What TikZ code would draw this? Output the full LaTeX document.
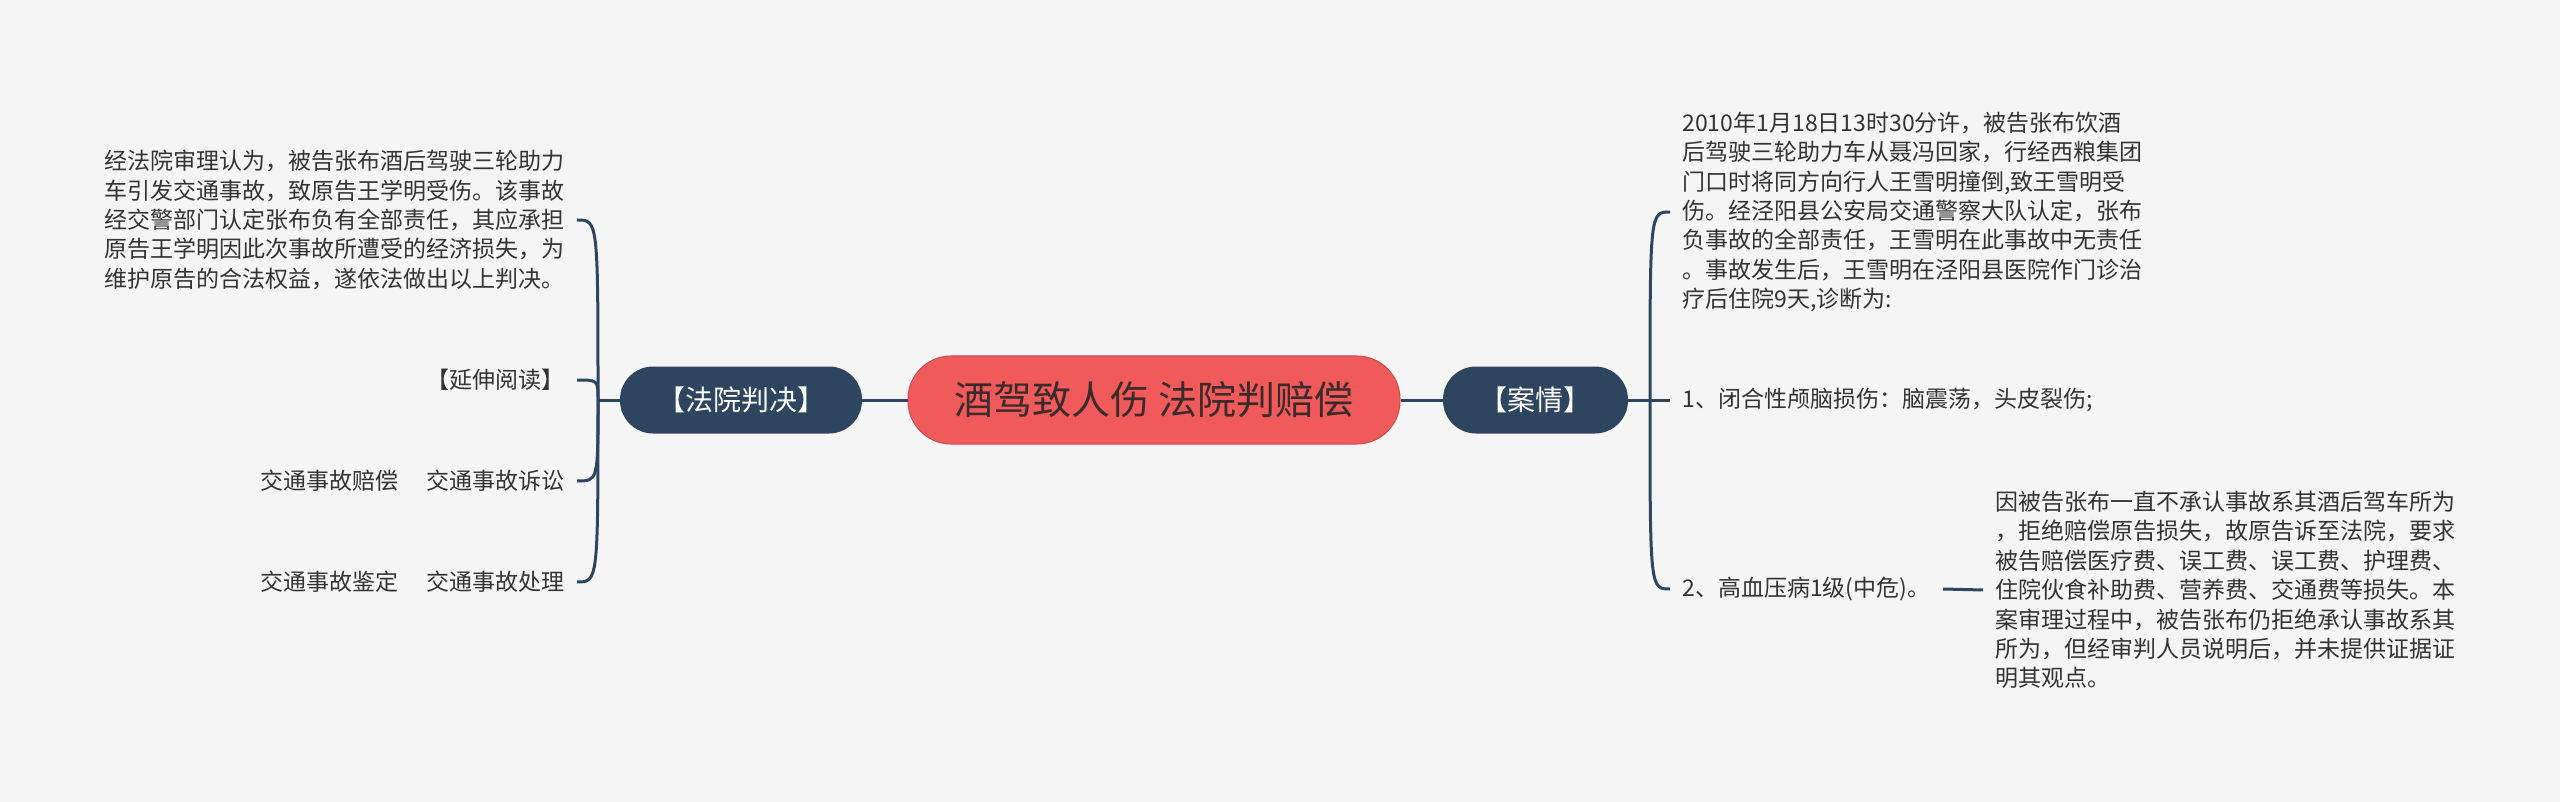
\documentclass[tikz,border=0pt]{standalone}
\usepackage{fontspec}
\setmainfont{Noto Sans CJK SC}
\usepackage{tikz}
\usetikzlibrary{positioning}
\definecolor{canvas}{HTML}{F5F5F5}
\definecolor{rootred}{HTML}{F05A5A}
\definecolor{rootink}{HTML}{3A2A2A}
\definecolor{slate}{HTML}{2E4560}
\definecolor{leafink}{HTML}{333333}
\tikzset{
  rootnode/.style={fill=rootred,draw=rootred!85!black,line width=0.5pt,rounded corners=21.5pt,
    minimum width=246pt,minimum height=44pt,inner sep=0pt,text=rootink,
    font=\fontsize{19.5}{22}\selectfont},
  branchnode/.style={fill=slate,rounded corners=16.5pt,minimum height=33.5pt,inner xsep=17pt,
    inner ysep=0pt,text=white,font=\fontsize{14}{16}\selectfont},
  leafnode/.style={align=left,inner xsep=6pt,inner ysep=2pt,text=leafink,
    font=\fontsize{11.5}{14.7}\selectfont},
  branchline/.style={draw=slate,line width=1.5pt}
}
\begin{document}
\begin{tikzpicture}[x=0.5pt,y=-0.5pt]
\path[use as bounding box,fill=canvas] (0,0) rectangle (2560,802);
\node[rootnode] (root) at (1154,400) {酒驾致人伤 法院判赔偿};
\node[branchnode,minimum width=121pt] (judge) at (741,400) {【法院判决】};
\node[branchnode,minimum width=92.5pt] (case) at (1535.5,400) {【案情】};
\coordinate (ljoin) at (598,400);
\coordinate (rjoin) at (1650,400);
\node[leafnode,anchor=east] (verdict) at (577,220)
{经法院审理认为，被告张布酒后驾驶三轮助力\\车引发交通事故，致原告王学明受伤。该事故\\经交警部门认定张布负有全部责任，其应承担\\原告王学明因此次事故所遭受的经济损失，为\\维护原告的合法权益，遂依法做出以上判决。};
\node[leafnode,anchor=east] (reading) at (577,380) {【延伸阅读】};
\node[leafnode,anchor=east] (suit) at (577,481) {交通事故赔偿\hspace{14pt}交通事故诉讼};
\node[leafnode,anchor=east] (handle) at (577,582) {交通事故鉴定\hspace{14pt}交通事故处理};
\node[leafnode,anchor=west] (facts) at (1670,212)
{2010年1月18日13时30分许，被告张布饮酒\\后驾驶三轮助力车从聂冯回家，行经西粮集团\\门口时将同方向行人王雪明撞倒,致王雪明受\\伤。经泾阳县公安局交通警察大队认定，张布\\负事故的全部责任，王雪明在此事故中无责任\\。事故发生后，王雪明在泾阳县医院作门诊治\\疗后住院9天,诊断为:};
\node[leafnode,anchor=west] (injury) at (1670,400) {1、闭合性颅脑损伤：脑震荡，头皮裂伤;};
\node[leafnode,anchor=west] (pressure) at (1670,589) {2、高血压病1级(中危)。};
\node[leafnode,anchor=west] (claim) at (1983,590)
{因被告张布一直不承认事故系其酒后驾车所为\\，拒绝赔偿原告损失，故原告诉至法院，要求\\被告赔偿医疗费、误工费、误工费、护理费、\\住院伙食补助费、营养费、交通费等损失。本\\案审理过程中，被告张布仍拒绝承认事故系其\\所为，但经审判人员说明后，并未提供证据证\\明其观点。};
\draw[branchline] (judge) -- (root) -- (case);
\draw[branchline] (judge.west) -- (ljoin);
\foreach \leaf in {verdict,reading,suit,handle}
  \draw[branchline] (ljoin) .. controls (ljoin |- \leaf.east) .. (\leaf.east);
\draw[branchline] (case.east) -- (injury.west);
\foreach \leaf in {facts,pressure}
  \draw[branchline] (rjoin) .. controls (rjoin |- \leaf.west) .. (\leaf.west);
\draw[branchline] (pressure.east) -- (claim.west);
\end{tikzpicture}
\end{document}
